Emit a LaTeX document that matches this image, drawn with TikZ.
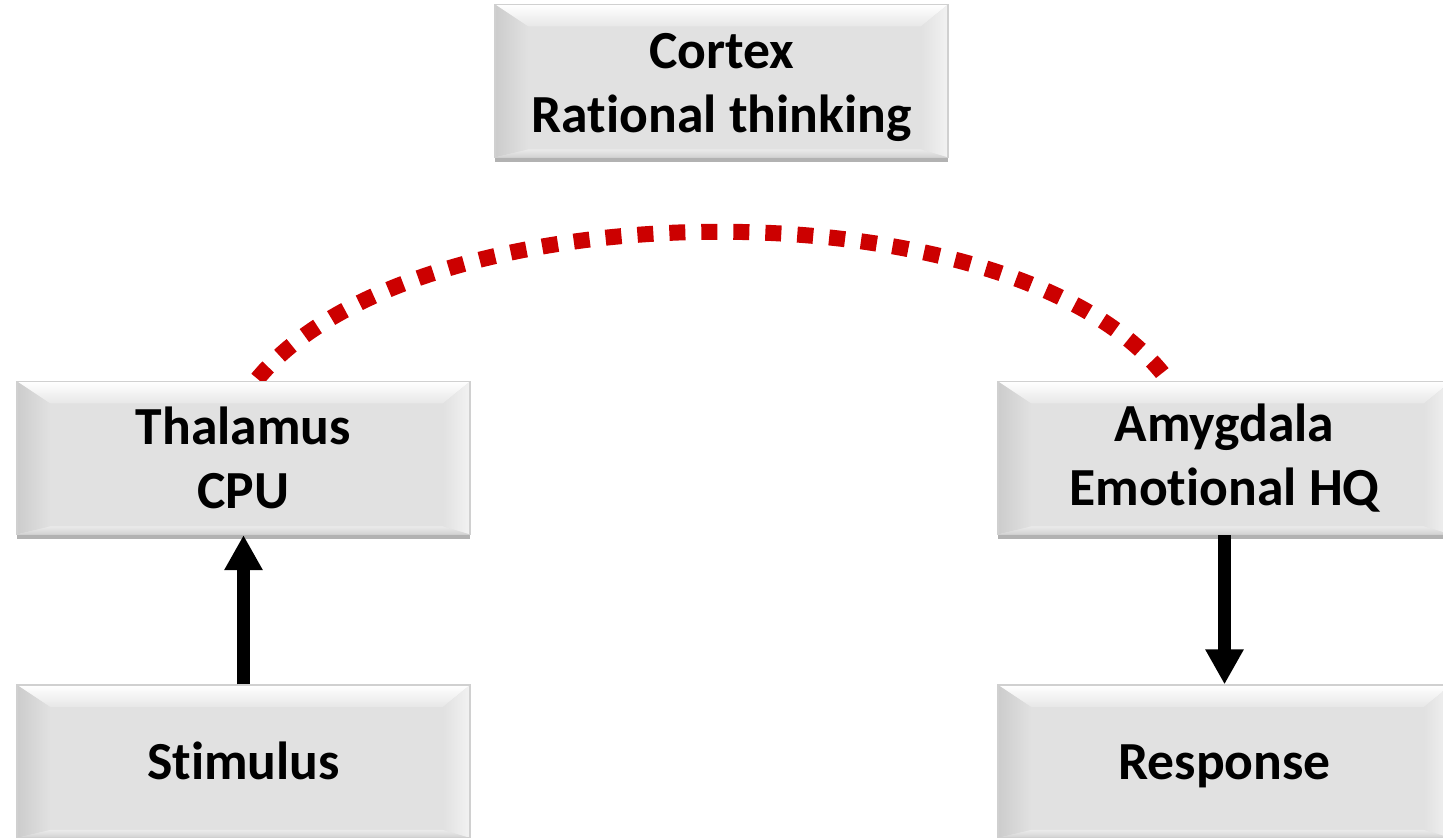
\documentclass[tikz,border=0pt]{standalone}
\usepackage{fontspec}
\setmainfont{Carlito}[Ligatures=NoCommon]
\usetikzlibrary{arrows.meta}
\usetikzlibrary{shadows}
\usetikzlibrary{backgrounds}
\usetikzlibrary{calc}

\definecolor{facegray}{HTML}{E1E1E1}
\definecolor{edgegray}{HTML}{D0D0D0}
\definecolor{linkred}{HTML}{CC0000}

\begin{document}
\begin{tikzpicture}[
        x=0.5pt, y=0.5pt, thick,
        bevelbox/.style={
            draw=edgegray, line width=0.6pt, fill=facegray,
            minimum width=226.5pt, minimum height=76.5pt, inner sep=0pt,
            align=center, font=\fontsize{26.8pt}{32pt}\selectfont\bfseries,
            drop shadow={shadow xshift=0pt, shadow yshift=-2.5pt,
                         opacity=0.3, fill=black},
            path picture={
                \coordinate (o1) at (path picture bounding box.north west);
                \coordinate (o2) at (path picture bounding box.north east);
                \coordinate (o3) at (path picture bounding box.south east);
                \coordinate (o4) at (path picture bounding box.south west);
                \coordinate (i1) at ([shift={(16.5pt,-11pt)}]o1);
                \coordinate (i2) at ([shift={(-13.5pt,-11pt)}]o2);
                \coordinate (i3) at ([shift={(-13.5pt,4pt)}]o3);
                \coordinate (i4) at ([shift={(16.5pt,4pt)}]o4);
                \shade[top color=white, bottom color=facegray!80!white]
                    (o1) -- (o2) -- (i2) -- (i1) -- cycle;
                \shade[left color=black!20, right color=facegray]
                    (o1) -- (i1) -- (i4) -- (o4) -- cycle;
                \shade[left color=facegray, right color=black!5]
                    (o2) -- (i2) -- (i3) -- (o3) -- cycle;
                \shade[top color=facegray!70!white, bottom color=black!18]
                    (o4) -- (i4) -- (i3) -- (o3) -- cycle;
            }},
        oneline/.style={text height=22pt, text depth=4pt},
        fatarrow/.style={
            line width=6.5pt, black,
            -{Triangle[width=18pt, length=17.5pt]}},
        redlink/.style={
            linkred, line width=8pt, dash pattern=on 8pt off 8pt},
    ]
    \useasboundingbox (0, 0) rectangle (1443, 838);

    \node[bevelbox] (cortex) at (721.5, 757) {\vphantom{Cg}\\[-26pt]Cortex\\Rational thinking};
    \node[bevelbox] (thal)   at (243.5, 380) {Thalamus\\CPU};
    \node[bevelbox] (amyg)   at (1224.5, 380) {Amygdala\\Emotional HQ};
    \node[bevelbox, oneline] (stim) at (243.5, 76.5) {Stimulus};
    \node[bevelbox, oneline] (resp) at (1224.5, 76.5) {Response};

    \draw[fatarrow] (stim) -- (thal);
    \draw[fatarrow] (amyg) -- (resp);

    % dotted link goes under the boxes
    \begin{scope}[on background layer]
    \draw[redlink] ([xshift=7pt, yshift=1pt]thal.north)
        .. controls +(81pt, 98.5pt) and +(-69pt, 103pt) ..
        ([xshift=-26pt, yshift=-3pt]amyg.north);
    \end{scope}

\end{tikzpicture}
\end{document}
